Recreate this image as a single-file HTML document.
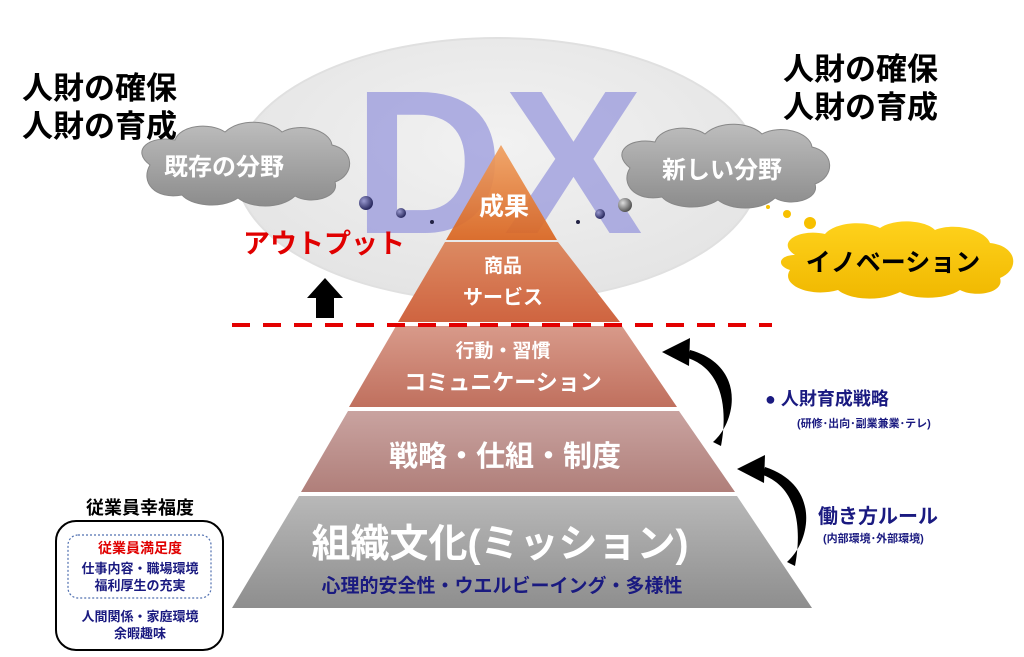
<!DOCTYPE html>
<html><head><meta charset="utf-8"><style>
body{margin:0;background:#fff;}
svg{display:block;}
text{font-family:"Liberation Sans","Noto Sans CJK JP",sans-serif;font-weight:bold;}
</style></head><body>
<svg width="1024" height="657" viewBox="0 0 1024 657" xmlns="http://www.w3.org/2000/svg">
<defs>
<radialGradient id="ell" cx="50%" cy="40%" r="60%"><stop offset="0" stop-color="#f2f2f2"/><stop offset="1" stop-color="#e4e4e4"/></radialGradient>
<linearGradient id="cl" x1="0" y1="0" x2="0" y2="1"><stop offset="0" stop-color="#bdbdbd"/><stop offset="1" stop-color="#8c8c8c"/></linearGradient>
<linearGradient id="yl" x1="0" y1="0" x2="0" y2="1"><stop offset="0" stop-color="#ffd21c"/><stop offset="1" stop-color="#f0b800"/></linearGradient>
<linearGradient id="l1" x1="0" y1="0" x2="0" y2="1"><stop offset="0" stop-color="#f0a060"/><stop offset="1" stop-color="#d9641f"/></linearGradient>
<linearGradient id="l2" x1="0" y1="0" x2="0" y2="1"><stop offset="0" stop-color="#dc8a62"/><stop offset="1" stop-color="#cf6440"/></linearGradient>
<linearGradient id="l3" x1="0" y1="0" x2="0" y2="1"><stop offset="0" stop-color="#d89a8a"/><stop offset="1" stop-color="#c0705e"/></linearGradient>
<linearGradient id="l4" x1="0" y1="0" x2="0" y2="1"><stop offset="0" stop-color="#c9a3a0"/><stop offset="1" stop-color="#b07f7a"/></linearGradient>
<linearGradient id="l5" x1="0" y1="0" x2="0" y2="1"><stop offset="0" stop-color="#b8b8b8"/><stop offset="1" stop-color="#8e8e8e"/></linearGradient>
<radialGradient id="sp" cx="35%" cy="35%" r="65%"><stop offset="0" stop-color="#9a9ad0"/><stop offset="1" stop-color="#2a2a60"/></radialGradient>
<radialGradient id="sg" cx="35%" cy="35%" r="65%"><stop offset="0" stop-color="#ddd"/><stop offset="1" stop-color="#555"/></radialGradient>
</defs>

<ellipse cx="498" cy="170" rx="262" ry="132" fill="url(#ell)" stroke="#e0e0e0" stroke-width="2"/>

<g fill="url(#cl)" stroke="#888" stroke-width="1">
<path d="M150,165 C130,150 150,135 175,140 C180,125 210,122 225,132 C240,118 270,120 282,132 C300,122 330,130 332,145 C355,150 355,175 335,182 C340,198 310,205 295,196 C280,210 250,208 238,198 C220,210 190,205 182,195 C155,200 140,182 150,165 Z"/>
<path d="M630,168 C610,152 630,137 655,142 C660,127 690,124 705,134 C720,120 750,122 762,134 C780,124 810,132 812,147 C835,152 835,177 815,184 C820,200 790,207 775,198 C760,212 730,210 718,200 C700,212 670,207 662,197 C635,202 620,184 630,168 Z"/>
</g>
<path fill="url(#yl)" d="M795,255 C775,242 800,228 825,234 C835,222 865,220 880,228 C895,218 925,220 935,230 C955,222 985,230 990,243 C1018,246 1020,270 1000,278 C1005,293 975,298 960,290 C945,300 915,300 900,292 C880,302 850,300 838,290 C810,298 780,285 790,270 C775,265 780,255 795,255 Z"/>
<circle cx="768" cy="207" r="2" fill="#f7c000"/><circle cx="787" cy="214" r="4" fill="#f7c000"/><circle cx="810" cy="223" r="6" fill="#f7c000"/>
<text x="224" y="175" font-size="24" fill="#fff" text-anchor="middle">既存の分野</text>
<text x="722" y="178" font-size="24" fill="#fff" text-anchor="middle">新しい分野</text>
<text x="893" y="271" font-size="25" fill="#000" text-anchor="middle">イノベーション</text>

<text x="498" y="233" font-size="205" fill="#9898dc" fill-opacity="0.75" text-anchor="middle" font-family="Liberation Sans" textLength="290" lengthAdjust="spacingAndGlyphs">DX</text>

<polygon points="501,145 446,240 557,240" fill="url(#l1)" fill-opacity="0.92"/>
<polygon points="445,242 558,242 620,322 398,322" fill="url(#l2)"/>
<polygon points="396,326 622,326 677,407 349,407" fill="url(#l3)"/>
<polygon points="348,411 679,411 735,492 301,492" fill="url(#l4)"/>
<polygon points="299,496 737,496 812,608 232,608" fill="url(#l5)"/>

<circle cx="366" cy="203" r="7" fill="url(#sp)"/><circle cx="401" cy="213" r="5" fill="url(#sp)"/><circle cx="432" cy="222" r="2" fill="#224"/>
<circle cx="578" cy="222" r="2" fill="#224"/><circle cx="600" cy="214" r="5" fill="url(#sp)"/><circle cx="625" cy="205" r="7" fill="url(#sg)"/>

<text x="504" y="215" font-size="25" fill="#fff" text-anchor="middle">成果</text>
<text x="503" y="272" font-size="19" fill="#fff" text-anchor="middle">商品</text>
<text x="503" y="304" font-size="20" fill="#fff" text-anchor="middle">サービス</text>
<text x="503" y="357" font-size="19" fill="#fff" text-anchor="middle">行動・習慣</text>
<text x="503" y="390" font-size="22" fill="#fff" text-anchor="middle">コミュニケーション</text>
<text x="505" y="466" font-size="29" fill="#fff" text-anchor="middle">戦略・仕組・制度</text>
<text x="500" y="557" font-size="39" fill="#fff" text-anchor="middle">組織文化(ミッション)</text>
<text x="502" y="592" font-size="19" fill="#1a1a80" text-anchor="middle">心理的安全性・ウエルビーイング・多様性</text>

<line x1="232" y1="325" x2="772" y2="325" stroke="#e30000" stroke-width="4" stroke-dasharray="18,13"/>

<text x="243" y="253" font-size="27" fill="#e00000" font-weight="normal">アウトプット</text>
<polygon points="325,278 307,298 316,298 316,318 334,318 334,298 343,298" fill="#000"/>

<text x="22" y="99" font-size="31" fill="#000">人財の確保</text>
<text x="22" y="137" font-size="31" fill="#000">人財の育成</text>
<text x="783" y="80" font-size="31" fill="#000">人財の確保</text>
<text x="783" y="118" font-size="31" fill="#000">人財の育成</text>

<path d="M713,442 C738,420 745,365 690,350 L688,358 C728,372 726,420 721,446 Z" fill="#000"/>
<polygon points="662,352 690,338 689,366" fill="#000"/>
<path d="M787,562 C812,540 820,485 765,467 L763,475 C803,490 800,540 795,566 Z" fill="#000"/>
<polygon points="737,469 765,455 764,483" fill="#000"/>

<text x="765" y="405" font-size="18" fill="#1a1a80">● 人財育成戦略</text>
<text x="797" y="427" font-size="11" fill="#1a1a80">(研修･出向･副業兼業･テレ)</text>
<text x="818" y="523" font-size="20" fill="#1a1a80">働き方ルール</text>
<text x="823" y="542" font-size="11" fill="#1a1a80">(内部環境･外部環境)</text>

<text x="140" y="514" font-size="18" fill="#000" text-anchor="middle">従業員幸福度</text>
<rect x="56" y="521" width="167" height="129" rx="20" fill="#fff" stroke="#000" stroke-width="2"/>
<rect x="68" y="535" width="143" height="63" rx="10" fill="none" stroke="#5070b0" stroke-width="1.2" stroke-dasharray="2,2"/>
<text x="140" y="553" font-size="14" fill="#e00000" text-anchor="middle">従業員満足度</text>
<text x="140" y="573" font-size="13" fill="#1a1a80" text-anchor="middle">仕事内容・職場環境</text>
<text x="140" y="590" font-size="13" fill="#1a1a80" text-anchor="middle">福利厚生の充実</text>
<text x="140" y="621" font-size="13" fill="#1a1a80" text-anchor="middle">人間関係・家庭環境</text>
<text x="140" y="638" font-size="13" fill="#1a1a80" text-anchor="middle">余暇趣味</text>
</svg>
</body></html>
